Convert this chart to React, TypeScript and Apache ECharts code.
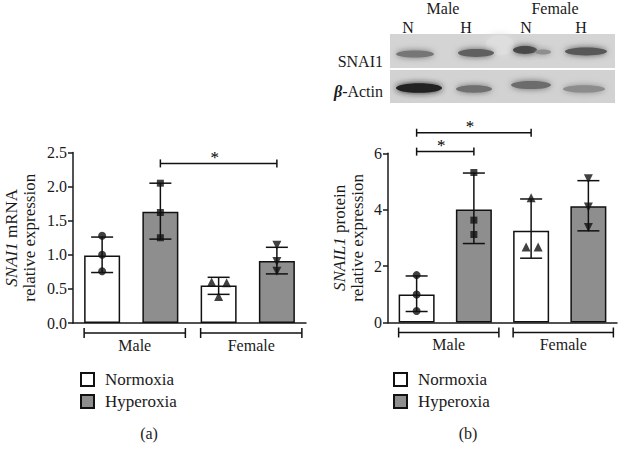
import React, { useEffect, useRef } from 'react';
import * as echarts from 'echarts';

const categories = ['Male-N', 'Male-H', 'Female-N', 'Female-H'];
const groups = ['Male', 'Female'];
const seriesNames = ['Normoxia', 'Hyperoxia'];
const blotLanes = ['N', 'H', 'N', 'H'];
const blotRows = ['SNAI1', 'β-Actin'];

// (a) SNAI1 mRNA
const mrnaMeans = [0.99, 1.63, 0.55, 0.91];
const mrnaPoints = [[1.28, 1.0, 0.76], [2.05, 1.62, 1.25], [0.6, 0.59, 0.39], [1.14, 0.9, 0.76]];
const mrnaErr = [[0.74, 1.26], [1.23, 2.05], [0.42, 0.67], [0.72, 1.11]];
const mrnaJitter = [[0, 0, 0], [0, 0, 0], [-7, 8, 0], [0, 0, 0]];
const mrnaSig = [[1, 3, 2.34]];

// (b) SNAIL1 protein
const proteinMeans = [0.99, 4.01, 3.25, 4.12];
const proteinPoints = [[1.68, 0.99, 0.41], [5.32, 3.63, 3.12], [4.42, 2.68, 2.68], [5.1, 4.1, 3.37]];
const proteinErr = [[0.39, 1.65], [2.8, 5.3], [2.28, 4.38], [3.25, 5.03]];
const proteinJitter = [[0, 0, 0], [0, 0, 0], [0, -5, 7], [0, 0, 0]];
const proteinSig = [[0, 2, 6.73], [0, 1, 6.06]];

const FONT = 'Liberation Serif, Times New Roman, serif';
const INK = '#1a1a1a';
const GRAY = '#8e8e8e';
const BAR_W = 36;
const symbols = [
  { symbol: 'circle', size: 8, rotate: 0 },
  { symbol: 'rect', size: 7, rotate: 0 },
  { symbol: 'triangle', size: 9, rotate: 0 },
  { symbol: 'triangle', size: 9, rotate: 180 },
];

const textStyle = (text: string, size: number, align = 'center', extra: any = {}) => ({
  text, fontSize: size, fontFamily: FONT, fill: INK, align, verticalAlign: 'middle', ...extra,
});

function buildSeries(gi: number, means: number[], points: number[][], err: number[][], jitter: number[][], sig: number[][]) {
  const barN = means.map((v, i) => (i % 2 === 0 ? v : '-'));
  const barH = means.map((v, i) => (i % 2 === 1 ? v : '-'));
  const lineStyle = { stroke: '#111', lineWidth: 1.5 };
  const series: any[] = [
    {
      name: seriesNames[0], type: 'bar', xAxisIndex: gi, yAxisIndex: gi, data: barN, barWidth: BAR_W, barGap: '-100%',
      itemStyle: { color: '#fff', borderColor: '#111', borderWidth: 1.5 },
    },
    {
      name: seriesNames[1], type: 'bar', xAxisIndex: gi, yAxisIndex: gi, data: barH, barWidth: BAR_W, barGap: '-100%',
      itemStyle: { color: GRAY, borderColor: '#111', borderWidth: 1.5 },
    },
    {
      type: 'custom', xAxisIndex: gi, yAxisIndex: gi, clip: false, z: 5,
      data: err.map((e, i) => [i, e[0], e[1]]),
      encode: { x: 0, y: [1, 2] },
      renderItem: (params: any, api: any) => {
        const x = api.value(0);
        const lo = api.coord([x, api.value(1)]);
        const hi = api.coord([x, api.value(2)]);
        const cw = 11;
        return {
          type: 'group', children: [
            { type: 'line', shape: { x1: lo[0], y1: lo[1], x2: hi[0], y2: hi[1] }, style: lineStyle },
            { type: 'line', shape: { x1: lo[0] - cw, y1: lo[1], x2: lo[0] + cw, y2: lo[1] }, style: lineStyle },
            { type: 'line', shape: { x1: hi[0] - cw, y1: hi[1], x2: hi[0] + cw, y2: hi[1] }, style: lineStyle },
          ],
        };
      },
    },
    {
      type: 'scatter', xAxisIndex: gi, yAxisIndex: gi, z: 6,
      itemStyle: { color: '#111' },
      data: points.flatMap((arr, i) => arr.map((v, k) => ({
        value: [i, v],
        symbol: symbols[i].symbol,
        symbolSize: symbols[i].size,
        symbolRotate: symbols[i].rotate,
        symbolOffset: [jitter[i][k], 0],
      }))),
    },
    {
      type: 'custom', xAxisIndex: gi, yAxisIndex: gi, clip: false, z: 5,
      data: [[0, 1, 0], [2, 3, 0]],
      encode: { x: [0, 1], y: 2 },
      renderItem: (params: any, api: any) => {
        const a = api.coord([api.value(0), 0]);
        const b = api.coord([api.value(1), 0]);
        const y = a[1] + 10;
        const x1 = a[0] - BAR_W / 2;
        const x2 = b[0] + BAR_W / 2 + 7;
        return {
          type: 'group', children: [
            { type: 'line', shape: { x1, y1: y, x2, y2: y }, style: lineStyle },
            { type: 'line', shape: { x1, y1: y - 5, x2: x1, y2: y + 5 }, style: lineStyle },
            { type: 'line', shape: { x1: x2, y1: y - 5, x2, y2: y + 5 }, style: lineStyle },
            { type: 'text', x: (x1 + x2) / 2, y: y + 12, style: textStyle(groups[params.dataIndex], 16) },
          ],
        };
      },
    },
    {
      type: 'custom', xAxisIndex: gi, yAxisIndex: gi, clip: false, z: 5,
      data: sig,
      encode: { x: [0, 1], y: 2 },
      renderItem: (params: any, api: any) => {
        const a = api.coord([api.value(0), api.value(2)]);
        const b = api.coord([api.value(1), api.value(2)]);
        const y = a[1];
        return {
          type: 'group', children: [
            { type: 'line', shape: { x1: a[0], y1: y, x2: b[0], y2: y }, style: lineStyle },
            { type: 'line', shape: { x1: a[0], y1: y - 4, x2: a[0], y2: y + 4 }, style: lineStyle },
            { type: 'line', shape: { x1: b[0], y1: y - 4, x2: b[0], y2: y + 4 }, style: lineStyle },
            { type: 'text', x: (a[0] + b[0]) / 2 - 4, y: y - 6, style: textStyle('*', 17, 'center', { fill: '#000' }) },
          ],
        };
      },
    },
  ];
  return series;
}

function yAxisCfg(gi: number, max: number, interval: number, digits: number, name: string, gap: number) {
  return {
    type: 'value', gridIndex: gi, min: 0, max, interval,
    axisLine: { show: true, lineStyle: { color: INK, width: 1.5 } },
    axisTick: { show: true, length: 5, lineStyle: { color: INK, width: 1.5 } },
    splitLine: { show: false },
    axisLabel: { formatter: (v: number) => v.toFixed(digits), fontSize: 16, fontFamily: FONT, color: INK, margin: 6 },
    name, nameLocation: 'middle', nameRotate: 90, nameGap: gap,
    nameTextStyle: {
      fontSize: 17, fontFamily: FONT, color: INK, lineHeight: 18, align: 'center',
      rich: { i: { fontStyle: 'italic', fontSize: 17, fontFamily: FONT, color: INK, lineHeight: 18 } },
    },
  };
}

function xAxisCfg(gi: number) {
  return {
    type: 'category', gridIndex: gi, data: categories,
    axisLine: { show: true, lineStyle: { color: INK, width: 1.5 } },
    axisTick: { show: false }, axisLabel: { show: false },
  };
}

function legendCfg(left: number) {
  return {
    orient: 'vertical', left, top: 366, itemWidth: 13, itemHeight: 13, itemGap: 5, icon: 'rect',
    data: seriesNames,
    textStyle: { fontSize: 17, fontFamily: FONT, color: INK, padding: [0, 0, 0, 6] },
  };
}

function blotGraphics() {
  const g: any[] = [];
  g.push({ type: 'rect', shape: { x: 390, y: 34, width: 225, height: 34 }, style: { fill: '#d4d4d4' } });
  g.push({ type: 'rect', shape: { x: 390, y: 70, width: 225, height: 33 }, style: { fill: '#d2d2d2' } });
  g.push({ type: 'ellipse', shape: { cx: 500, cy: 45, rx: 14, ry: 10 }, style: { fill: '#dedede', shadowBlur: 8, shadowColor: '#dedede' } });
  const bands = [
    [415, 54, 19, 3.6, '#767676'], [476, 53, 18, 3.9, '#606060'], [525, 50, 12, 3.9, '#4a4a4a'],
    [543, 52, 8, 2.5, '#8e8e8e'], [586, 51.5, 21, 3.9, '#585858'],
    [419, 88, 23, 4.8, '#222222'], [474, 89, 18, 3.7, '#707070'], [531, 85, 20, 4.1, '#6c6c6c'], [584, 89, 21, 3.7, '#8c8c8c'],
  ];
  bands.forEach((b: any) => g.push({
    type: 'ellipse', shape: { cx: b[0], cy: b[1], rx: b[2], ry: b[3] },
    style: { fill: b[4], shadowBlur: 6, shadowColor: b[4] },
  }));
  const txt = (text: string, x: number, y: number, align = 'center', extra: any = {}) => ({
    type: 'text', x, y, style: textStyle(text, 16, align, extra),
  });
  g.push(txt(groups[0], 443, 8));
  g.push(txt(groups[1], 555, 8));
  const laneX = [408, 466, 526, 581];
  blotLanes.forEach((l, i) => g.push(txt(l, laneX[i], 27)));
  g.push(txt(blotRows[0], 383, 61, 'right'));
  g.push(txt('{b|β}-Actin', 383, 91, 'right', {
    rich: { b: { fontStyle: 'italic', fontWeight: 'bold', fontSize: 16, fontFamily: FONT, fill: INK } },
  }));
  g.push(txt('(a)', 149, 433));
  g.push(txt('(b)', 468, 433));
  return g;
}

export default function App() {
  const ref = useRef<HTMLDivElement>(null);
  useEffect(() => {
    if (!ref.current) return;
    const chart = echarts.init(ref.current, undefined, { renderer: 'svg' });
    chart.setOption({
      animation: false,
      backgroundColor: '#fff',
      textStyle: { fontFamily: FONT },
      grid: [
        { left: 73, top: 152.5, width: 233, height: 170.5 },
        { left: 388, top: 153.3, width: 229, height: 169.2 },
      ],
      xAxis: [xAxisCfg(0), xAxisCfg(1)],
      yAxis: [
        yAxisCfg(0, 2.5, 0.5, 1, '{i|SNAI1} mRNA\nrelative expression', 35),
        yAxisCfg(1, 6, 2, 0, '{i|SNAIL1} protein\nrelative expression', 22),
      ],
      legend: [legendCfg(75), legendCfg(388)],
      series: [
        ...buildSeries(0, mrnaMeans, mrnaPoints, mrnaErr, mrnaJitter, mrnaSig),
        ...buildSeries(1, proteinMeans, proteinPoints, proteinErr, proteinJitter, proteinSig),
      ],
      graphic: blotGraphics(),
    });
    return () => chart.dispose();
  }, []);
  return <div ref={ref} style={{ position: 'absolute', left: 0, top: 0, width: 618, height: 457 }} />;
}
